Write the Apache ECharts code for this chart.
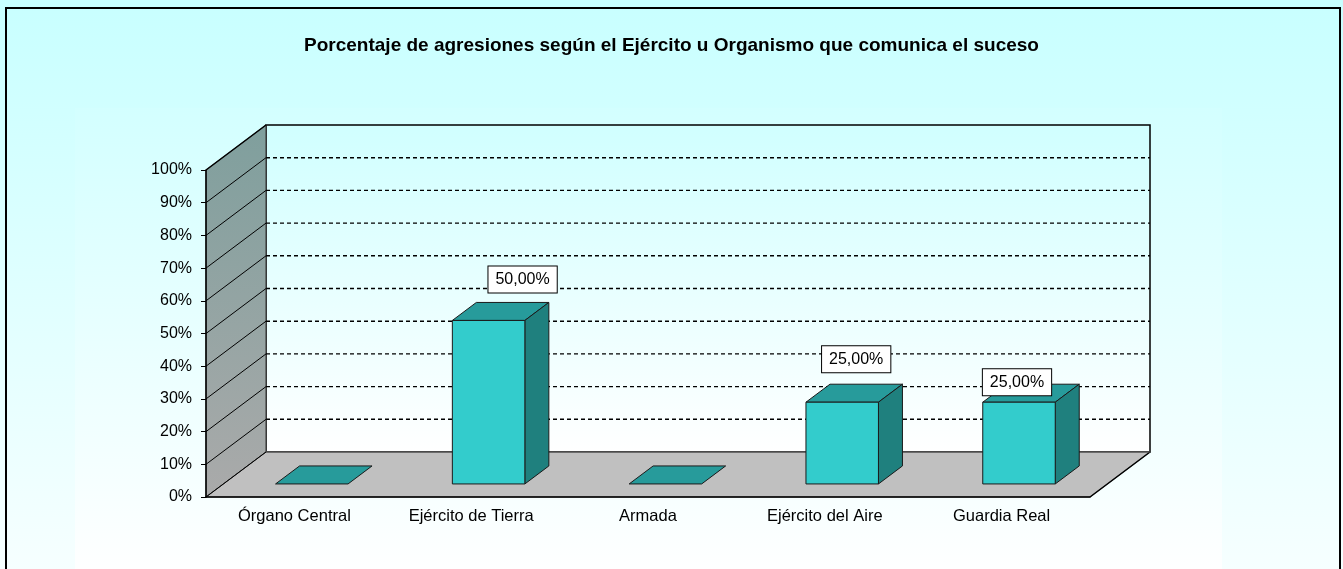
<!DOCTYPE html>
<html>
<head>
<meta charset="utf-8">
<script src="https://cdn.jsdelivr.net/npm/echarts@6/dist/echarts.min.js"></script>
<style>
  html, body { margin: 0; padding: 0; }
  #main { width: 1343px; height: 569px; }
</style>
</head>
<body>
<div id="main"></div>
<script>
// data
const categories = ['Órgano Central', 'Ejército de Tierra', 'Armada', 'Ejército del Aire', 'Guardia Real'];
const shares = [0, 0.5, 0, 0.25, 0.25];
const yTickLabels = ['0%', '10%', '20%', '30%', '40%', '50%', '60%', '70%', '80%', '90%', '100%'];
const yTicks = yTickLabels.map((t, i) => i / 10);

// 3d look (pixels / fractions of depth)
const DX = 60, DY = -45;
const BAR_FRONT = 0.29, BAR_BACK = 0.69, BAR_W = 0.41;
// Excel labels were dragged by hand, nudge them a bit
const LABEL_SHIFT = [[0, 0], [22, -33], [0, 0], [2, -35], [-14, -12]];

const FONT = '"Liberation Sans", Arial, sans-serif';

const fmt = v => (v * 100).toFixed(2).replace('.', ',') + '%';

const myChart = echarts.init(document.getElementById('main'));

function renderFrame(params, api) {
    const bw = api.size([1, 0])[0];
    const x0 = api.coord([0, 0])[0] - bw / 2;
    const x1 = api.coord([categories.length - 1, 0])[0] + bw / 2;
    const y0 = api.coord([0, 0])[1];
    const yTop = api.coord([0, 1])[1];
    const kids = [];

    // back wall
    kids.push({
        type: 'polygon',
        shape: { points: [[x0 + DX, y0 + DY], [x0 + DX, yTop + DY], [x1 + DX, yTop + DY], [x1 + DX, y0 + DY]] },
        style: {
            fill: new echarts.graphic.LinearGradient(0, 0, 0, 1, [
                { offset: 0, color: '#d0ffff' },
                { offset: 1, color: '#ffffff' }
            ]),
            stroke: '#000', lineWidth: 1.5
        }
    });
    // left wall
    kids.push({
        type: 'polygon',
        shape: { points: [[x0, y0], [x0, yTop], [x0 + DX, yTop + DY], [x0 + DX, y0 + DY]] },
        style: {
            fill: new echarts.graphic.LinearGradient(0, 0, 0, 1, [
                { offset: 0, color: '#7f9f9d' },
                { offset: 1, color: '#aaaaaa' }
            ]),
            stroke: '#333', lineWidth: 1
        }
    });
    // floor
    kids.push({
        type: 'polygon',
        shape: { points: [[x0, y0], [x1, y0], [x1 + DX, y0 + DY], [x0 + DX, y0 + DY]] },
        style: { fill: '#c0c0c0', stroke: '#444', lineWidth: 1 }
    });
    // gridlines
    yTicks.forEach(v => {
        if (v === 0 || v === 1) return;
        const y = api.coord([0, v])[1];
        kids.push({
            type: 'line',
            shape: { x1: x0 + DX, y1: y + DY, x2: x1 + DX, y2: y + DY },
            style: { stroke: '#000', lineWidth: 1.4, lineDash: [4, 3] }
        });
        kids.push({
            type: 'line',
            shape: { x1: x0, y1: y, x2: x0 + DX, y2: y + DY },
            style: { stroke: '#000', lineWidth: 1 }
        });
    });
    // dark edges
    kids.push({ type: 'line', shape: { x1: x0, y1: yTop, x2: x0 + DX, y2: yTop + DY }, style: { stroke: '#000', lineWidth: 1.5 } });
    kids.push({ type: 'line', shape: { x1: x0, y1: y0, x2: x0 + DX, y2: y0 + DY }, style: { stroke: '#000', lineWidth: 1 } });
    kids.push({ type: 'line', shape: { x1: x1, y1: y0, x2: x1 + DX, y2: y0 + DY }, style: { stroke: '#000', lineWidth: 1.5 } });
    kids.push({ type: 'line', shape: { x1: x0 + DX, y1: y0 + DY, x2: x1 + DX, y2: y0 + DY }, style: { stroke: '#555', lineWidth: 1 } });

    return { type: 'group', children: kids };
}

function renderBar(params, api) {
    const idx = api.value(0);
    const v = api.value(1);
    const c0 = api.coord([idx, 0]);
    const c1 = api.coord([idx, v]);
    const bw = api.size([1, 0])[0] * BAR_W;
    const fx = c0[0] - bw / 2 + DX * BAR_FRONT;
    const fy0 = c0[1] + DY * BAR_FRONT;
    const fy1 = c1[1] + DY * BAR_FRONT;
    const ddx = DX * (BAR_BACK - BAR_FRONT);
    const ddy = DY * (BAR_BACK - BAR_FRONT);
    const edge = { stroke: '#1a1a1a', lineWidth: 1 };
    const kids = [];

    kids.push({
        type: 'polygon',
        shape: { points: [[fx, fy1], [fx + bw, fy1], [fx + bw + ddx, fy1 + ddy], [fx + ddx, fy1 + ddy]] },
        style: Object.assign({ fill: '#279b9b' }, edge)
    });
    if (v > 0) {
        kids.push({
            type: 'polygon',
            shape: { points: [[fx + bw, fy1], [fx + bw + ddx, fy1 + ddy], [fx + bw + ddx, fy0 + ddy], [fx + bw, fy0]] },
            style: Object.assign({ fill: '#1f807e' }, edge)
        });
        kids.push({
            type: 'rect',
            shape: { x: fx, y: fy1, width: bw, height: fy0 - fy1 },
            style: Object.assign({ fill: '#33cccc' }, edge)
        });
    }
    return { type: 'group', children: kids };
}

// label anchor = middle of the bar's top face
const topDx = DX * (BAR_FRONT + BAR_BACK) / 2;
const topDy = DY * (BAR_FRONT + BAR_BACK) / 2;

const option = {
    backgroundColor: {
        type: 'linear', x: 0, y: 0, x2: 0, y2: 1,
        colorStops: [{ offset: 0, color: '#c8ffff' }, { offset: 1, color: '#f6ffff' }]
    },
    animation: false,
    title: {
        left: 'center',
        top: 31,
        text: 'Porcentaje de agresiones según el Ejército u Organismo que comunica el suceso',
        textStyle: { fontFamily: FONT, fontSize: 19, fontWeight: 'bold', color: '#000' }
    },
    graphic: [
        {
            type: 'rect', z: -10, silent: true,
            shape: { x: 75, y: 108, width: 1147, height: 470 },
            style: {
                fill: new echarts.graphic.LinearGradient(0, 0, 0, 1, [
                    { offset: 0, color: '#d3ffff' },
                    { offset: 1, color: '#ffffff' }
                ])
            }
        },
        {
            type: 'rect', z: 100, silent: true,
            shape: { x: 6, y: 8, width: 1334, height: 580 },
            style: { fill: null, stroke: '#000', lineWidth: 2 }
        }
    ],
    grid: { left: 206, right: 253, top: 170, bottom: 72 },
    xAxis: {
        type: 'category',
        data: categories,
        z: 10,
        axisLine: { lineStyle: { color: '#000', width: 1.5 } },
        axisTick: { length: 5, lineStyle: { color: '#000' } },
        axisLabel: { color: '#000', fontFamily: FONT, fontSize: 16.5, margin: 11 }
    },
    yAxis: {
        type: 'value',
        min: 0,
        max: 1,
        interval: 0.1,
        z: 10,
        axisLine: { show: true, lineStyle: { color: '#000', width: 1.5 } },
        axisTick: { show: true, length: 5, lineStyle: { color: '#000' } },
        splitLine: { show: false },
        axisLabel: {
            color: '#000', fontFamily: FONT, fontSize: 16, margin: 14,
            formatter: v => yTickLabels[Math.round(v * 10)]
        }
    },
    series: [
        {
            type: 'custom',
            renderItem: renderFrame,
            data: [[0, 0]],
            silent: true
        },
        {
            type: 'custom',
            renderItem: renderBar,
            data: shares.map((v, i) => [i, v])
        },
        {
            type: 'scatter',
            z: 5,
            symbolSize: 0,
            silent: true,
            itemStyle: { opacity: 1 },
            data: shares.map((v, i) => ({
                value: [i, v],
                label: {
                    show: v > 0,
                    offset: [topDx + LABEL_SHIFT[i][0], topDy + LABEL_SHIFT[i][1] + 1]
                }
            })),
            label: {
                position: 'inside',
                formatter: p => fmt(p.value[1]),
                color: '#000',
                opacity: 1,
                fontFamily: FONT,
                fontSize: 16,
                lineHeight: 17,
                backgroundColor: '#fff',
                borderColor: '#000',
                borderWidth: 1,
                padding: [5, 7, 4, 7]
            }
        }
    ]
};

myChart.setOption(option);
window.addEventListener('resize', () => myChart.resize());
</script>
</body>
</html>
